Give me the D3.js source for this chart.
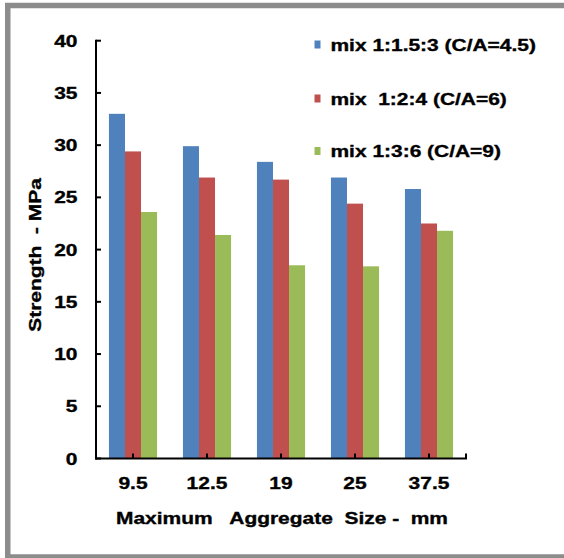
<!DOCTYPE html>
<html>
<head>
<meta charset="utf-8">
<script src="https://cdn.jsdelivr.net/npm/d3@7"></script>
<style>
  html, body { margin: 0; padding: 0; background: #fff; }
  text { font-family: "Liberation Sans", Arial, sans-serif; font-weight: bold; white-space: pre; }
</style>
</head>
<body>
<svg id="chart" width="564" height="558"></svg>
<script>
const categories = ["9.5", "12.5", "19", "25", "37.5"];
const seriesNames = ["mix 1:1.5:3 (C/A=4.5)", "mix  1:2:4 (C/A=6)", "mix 1:3:6 (C/A=9)"];
const mix1 = [33.0, 29.9, 28.4, 26.9, 25.8];
const mix2 = [29.4, 26.9, 26.7, 24.4, 22.5];
const mix3 = [23.6, 21.4, 18.5, 18.4, 21.8];
const yTicks = [0, 5, 10, 15, 20, 25, 30, 35, 40];
const colors = ["#4F81BD", "#C0504D", "#9BBB59"];
const xTitle = "Maximum   Aggregate  Size -  mm";
const yTitle = "Strength  - MPa";

const series = [mix1, mix2, mix3];
const SX = 1.27, FS = 16.5;

const svg = d3.select("#chart");
svg.append("rect").attr("width", 564).attr("height", 558).attr("fill", "#fff");
// outer frame
svg.append("rect").attr("x", 7.75).attr("y", 5.5).attr("width", 620).attr("height", 551.5)
  .attr("fill", "none").attr("stroke", "#8c8c8c").attr("stroke-width", 5.5);

const x0 = d3.scaleBand().domain(categories).range([96, 466]).paddingInner(0.35).paddingOuter(0.175);
const x1 = d3.scaleBand().domain(d3.range(series.length)).range([0, x0.bandwidth()]);
const y = d3.scaleLinear().domain([0, 40]).range([458.5, 40.7]);

// bars
const g = svg.append("g");
categories.forEach((c, i) => {
  series.forEach((s, k) => {
    g.append("rect")
      .attr("x", x0(c) + x1(k))
      .attr("y", y(s[i]))
      .attr("width", x1.bandwidth())
      .attr("height", y(0) - y(s[i]))
      .attr("fill", colors[k]);
  });
});

// y axis
const ax = svg.append("g").attr("stroke", "#000").attr("stroke-width", 2).attr("fill", "none");
ax.append("line").attr("x1", 96).attr("x2", 96).attr("y1", y(40) - 1).attr("y2", y(0) + 1);
yTicks.forEach(t => {
  ax.append("line").attr("x1", 96).attr("x2", 101).attr("y1", y(t)).attr("y2", y(t));
});
// x axis
ax.append("line").attr("x1", 95).attr("x2", 467).attr("y1", y(0)).attr("y2", y(0));
categories.forEach(c => {
  const cx = x0(c) + x0.bandwidth() / 2;
  ax.append("line").attr("x1", cx).attr("x2", cx).attr("y1", y(0)).attr("y2", y(0) - 5);
});
ax.append("line").attr("x1", 466).attr("x2", 466).attr("y1", y(0)).attr("y2", y(0) - 5);

function label(txt, tx, ty, anchor, rot) {
  svg.append("text")
    .attr("transform", `translate(${tx},${ty})` + (rot ? ` rotate(${rot})` : "") + ` scale(${SX},1)`)
    .attr("text-anchor", anchor)
    .attr("font-size", FS)
    .attr("fill", "#000")
    .attr("stroke", "#000")
    .attr("stroke-width", 0.35)
    .text(txt);
}

// y tick labels
yTicks.forEach(t => label(String(t), 77.5, y(t) + 6, "end"));
// x tick labels
categories.forEach(c => label(c, x0(c) + x0.bandwidth() / 2, 489, "middle"));
// axis titles
label(xTitle, 282, 523.5, "middle");
label(yTitle, 40.5, 255, "middle", -90);

// legend
const legendY = [50.5, 104.5, 157];
seriesNames.forEach((n, k) => {
  svg.append("rect").attr("x", 314.5).attr("y", legendY[k] - 10).attr("width", 6).attr("height", 8)
    .attr("fill", colors[k]);
  label(n, 330.5, legendY[k], "start");
});
</script>
</body>
</html>
